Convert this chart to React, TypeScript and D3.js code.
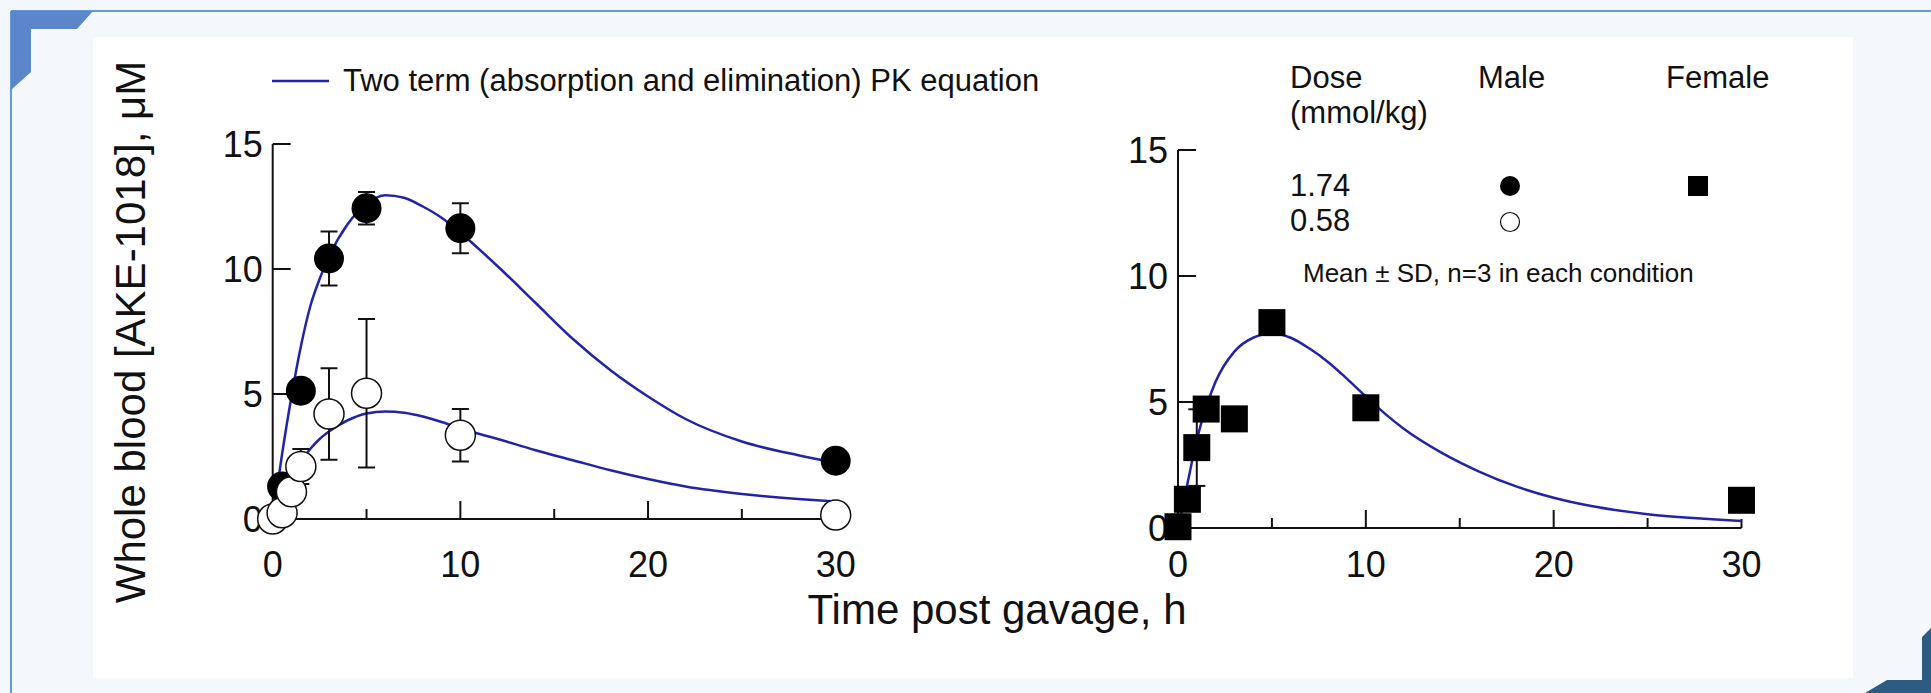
import * as d3 from 'd3'

// hours post gavage
const MALE_HIGH_T = [0, 0.5, 1.5, 3, 5, 10, 30]
const MALE_HIGH = [0, 1.3, 5.13, 10.42, 12.43, 11.63, 2.33]
const MALE_HIGH_SD = [0, 0, 0, 1.08, 0.65, 1.0, 0]

const MALE_LOW_T = [0, 0.5, 1, 1.5, 3, 5, 10, 30]
const MALE_LOW = [0, 0.25, 1.09, 2.1, 4.2, 5.03, 3.35, 0.16]
const MALE_LOW_SD = [0, 0, 0, 0.7, 1.83, 2.97, 1.05, 0]

const FEMALE_T = [0, 0.5, 1, 1.5, 3, 5, 10, 30]
const FEMALE = [0.05, 1.14, 3.19, 4.72, 4.33, 8.15, 4.77, 1.1]
const FEMALE_SD = [0, 0, 1.52, 0, 0, 0, 0, 0]

// fitted PK curves
const FIT_HIGH_T = [0, 0.5, 1, 1.5, 2, 2.5, 3, 4, 5, 6, 7, 8, 9, 10, 12, 14, 16, 18, 20, 22, 25, 28, 30]
const FIT_HIGH = [0, 2.6, 4.9, 6.9, 8.5, 9.6, 10.5, 11.8, 12.6, 12.95, 12.85, 12.5, 12.05, 11.45, 10.1, 8.65, 7.2, 5.95, 4.9, 4.0, 3.1, 2.55, 2.25]
const FIT_LOW_T = [0, 0.5, 1, 1.5, 2, 2.5, 3, 4, 5, 6, 7, 8, 9, 10, 12, 14, 16, 18, 20, 22, 25, 28, 30]
const FIT_LOW = [0, 0.9, 1.65, 2.3, 2.8, 3.2, 3.5, 3.95, 4.22, 4.3, 4.25, 4.1, 3.88, 3.62, 3.2, 2.75, 2.35, 1.95, 1.6, 1.3, 1.0, 0.8, 0.7]
const FIT_FEMALE_T = [0, 0.5, 1, 1.5, 2, 3, 4, 5, 6, 7, 8, 9, 10, 11, 12, 14, 16, 18, 20, 22, 25, 28, 30]
const FIT_FEMALE = [0, 1.75, 3.5, 4.8, 5.8, 7.0, 7.55, 7.72, 7.55, 7.12, 6.58, 5.92, 5.22, 4.55, 3.95, 3.0, 2.25, 1.65, 1.2, 0.87, 0.55, 0.37, 0.28]

const X_TICKS = [0, 10, 20, 30]
const X_MINOR = [5, 15, 25]
const Y_TICKS = [0, 5, 10, 15]

const FONT = 'Liberation Sans, Arial, Helvetica, sans-serif'
const INK = '#111'
const FIT_BLUE = '#2323a8'
const X_LABEL_BASE = 577

const zip = (t: number[], v: number[]) => t.map((d, i) => [d, v[i]] as [number, number])

function Axes({ x, y }: { x: any; y: any }) {
  const x0 = x(0)
  const y0 = y(0)
  return (
    <g stroke={INK} strokeWidth={2} fill='none'>
      <line x1={x0} x2={x0} y1={y(15)} y2={y0} />
      <line x1={x0} x2={x(30)} y1={y0} y2={y0} />
      {Y_TICKS.filter((d) => d > 0).map((d) => (
        <line key={d} x1={x0} x2={x0 + 18} y1={y(d)} y2={y(d)} />
      ))}
      {X_TICKS.filter((d) => d > 0).map((d) => (
        <line key={d} x1={x(d)} x2={x(d)} y1={y0} y2={y0 - (d === 30 ? 9 : 18)} />
      ))}
      {X_MINOR.map((d) => (
        <line key={d} x1={x(d)} x2={x(d)} y1={y0} y2={y0 - 10} />
      ))}
      <g stroke='none' fill={INK} fontFamily={FONT} fontSize={36}>
        {Y_TICKS.map((d) => (
          <text key={d} x={x0 - 10} y={y(d)} dy='0.36em' textAnchor='end'>
            {d}
          </text>
        ))}
        {X_TICKS.map((d) => (
          <text key={d} x={x(d)} y={X_LABEL_BASE} textAnchor='middle'>
            {d}
          </text>
        ))}
      </g>
    </g>
  )
}

function ErrorBars({ x, y, t, v, sd }: { x: any; y: any; t: number[]; v: number[]; sd: number[] }) {
  return (
    <g stroke={INK} strokeWidth={2}>
      {t.map((d, i) =>
        sd[i] > 0 ? (
          <g key={i}>
            <line x1={x(d)} x2={x(d)} y1={y(v[i] + sd[i])} y2={y(v[i] - sd[i])} />
            <line x1={x(d) - 8.5} x2={x(d) + 8.5} y1={y(v[i] + sd[i])} y2={y(v[i] + sd[i])} />
            <line x1={x(d) - 8.5} x2={x(d) + 8.5} y1={y(v[i] - sd[i])} y2={y(v[i] - sd[i])} />
          </g>
        ) : null
      )}
    </g>
  )
}

export default function App() {
  const W = 1931
  const H = 693

  const xL = d3.scaleLinear().domain([0, 30]).range([272.7, 835.7])
  const yL = d3.scaleLinear().domain([0, 15]).range([519, 144])
  const xR = d3.scaleLinear().domain([0, 30]).range([1178, 1741.5])
  const yR = d3.scaleLinear().domain([0, 15]).range([528, 150])

  const lineL = d3
    .line<[number, number]>()
    .x((d) => xL(d[0]))
    .y((d) => yL(d[1]))
    .curve(d3.curveMonotoneX)
  const lineR = d3
    .line<[number, number]>()
    .x((d) => xR(d[0]))
    .y((d) => yR(d[1]))
    .curve(d3.curveMonotoneX)

  return (
    <svg
      width={W}
      height={H}
      style={{ position: 'absolute', left: 0, top: 0, display: 'block' }}
    >
      {/* page frame */}
      <rect width={W} height={H} fill='#f4f8fd' />
      <line x1={11} x2={W} y1={11} y2={11} stroke='#2f7fd4' strokeWidth={1.5} />
      <line x1={11} x2={11} y1={11} y2={H} stroke='#2f7fd4' strokeWidth={1.5} />
      <polygon points='11,11 93,11 77,29 31,29 31,72 11,90' fill='#5b86c9' />
      <polygon points='1931,628 1922,637 1922,680 1887,680 1865,693 1931,693' fill='#2d5b82' />
      <rect x={93} y={37} width={1760} height={641} fill='#ffffff' />

      {/* legend, left */}
      <line x1={272} x2={329} y1={81} y2={81} stroke={FIT_BLUE} strokeWidth={2.5} />
      <text x={343} y={91} fontFamily={FONT} fontSize={31} fill={INK}>
        Two term (absorption and elimination) PK equation
      </text>

      {/* axis titles */}
      <text
        transform='translate(145, 332) rotate(-90)'
        textAnchor='middle'
        fontFamily={FONT}
        fontSize={42}
        fill={INK}
      >
        Whole blood [AKE-1018], μM
      </text>
      <text x={997} y={624} textAnchor='middle' fontFamily={FONT} fontSize={42} fill={INK}>
        Time post gavage, h
      </text>

      {/* left panel: male */}
      <Axes x={xL} y={yL} />
      <path d={lineL(zip(FIT_HIGH_T, FIT_HIGH)) || ''} fill='none' stroke={FIT_BLUE} strokeWidth={2.5} />
      <path d={lineL(zip(FIT_LOW_T, FIT_LOW)) || ''} fill='none' stroke={FIT_BLUE} strokeWidth={2.5} />
      <ErrorBars x={xL} y={yL} t={MALE_HIGH_T} v={MALE_HIGH} sd={MALE_HIGH_SD} />
      <ErrorBars x={xL} y={yL} t={MALE_LOW_T} v={MALE_LOW} sd={MALE_LOW_SD} />
      {MALE_HIGH_T.map((d, i) => (
        <circle key={i} cx={xL(d)} cy={yL(MALE_HIGH[i])} r={15} fill='#000' />
      ))}
      {MALE_LOW_T.map((d, i) => (
        <circle key={i} cx={xL(d)} cy={yL(MALE_LOW[i])} r={15} fill='#fff' stroke={INK} strokeWidth={1.5} />
      ))}

      {/* right panel: female */}
      <Axes x={xR} y={yR} />
      <path d={lineR(zip(FIT_FEMALE_T, FIT_FEMALE)) || ''} fill='none' stroke={FIT_BLUE} strokeWidth={2.5} />
      <ErrorBars x={xR} y={yR} t={FEMALE_T} v={FEMALE} sd={FEMALE_SD} />
      {FEMALE_T.map((d, i) => (
        <rect key={i} x={xR(d) - 13.5} y={yR(FEMALE[i]) - 13.5} width={27} height={27} fill='#000' />
      ))}

      {/* legend, right */}
      <g fontFamily={FONT} fontSize={31} fill={INK}>
        <text x={1290} y={88}>Dose</text>
        <text x={1290} y={123}>(mmol/kg)</text>
        <text x={1478} y={88}>Male</text>
        <text x={1666} y={88}>Female</text>
        <text x={1290} y={196}>1.74</text>
        <text x={1290} y={231}>0.58</text>
      </g>
      <circle cx={1510} cy={186} r={10} fill='#000' />
      <circle cx={1510} cy={222} r={9.5} fill='#fff' stroke={INK} strokeWidth={1.2} />
      <rect x={1688} y={176} width={20} height={20} fill='#000' />
      <text x={1303} y={282} fontFamily={FONT} fontSize={26} fill={INK}>
        Mean ± SD, n=3 in each condition
      </text>
    </svg>
  )
}
